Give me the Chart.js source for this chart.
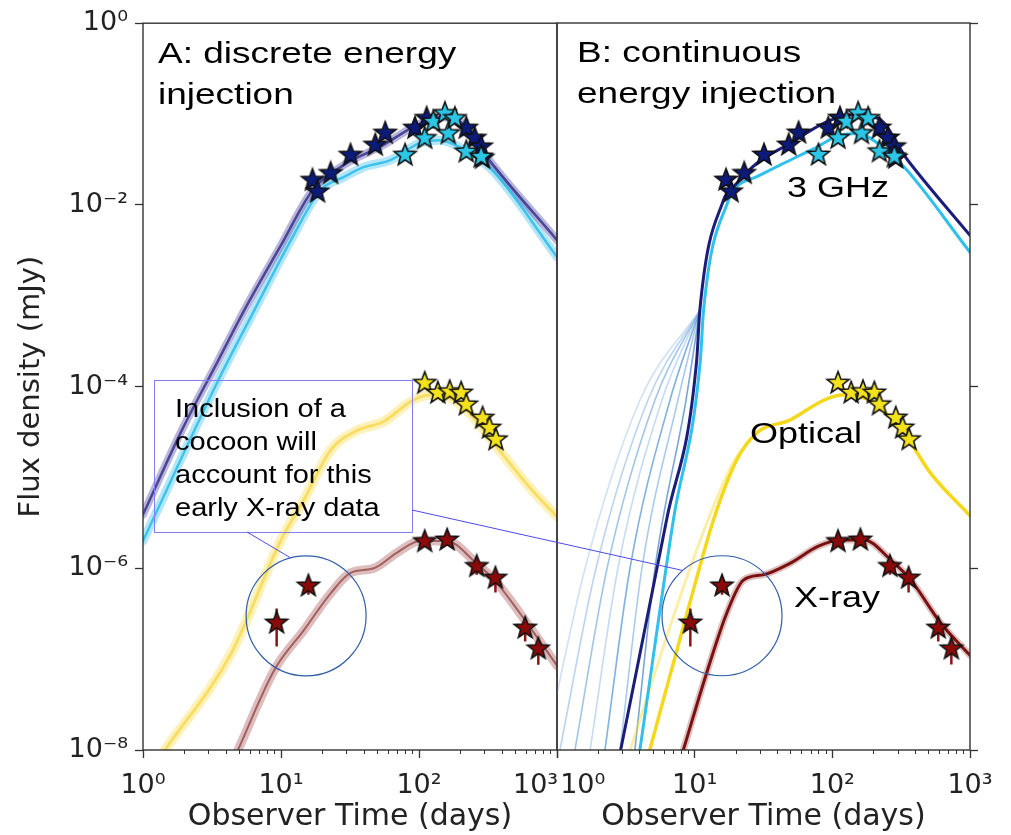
<!DOCTYPE html>
<html>
<head>
<meta charset="utf-8">
<title>Flux density vs observer time</title>
<script src="https://cdn.jsdelivr.net/npm/chart.js@4.4.1/dist/chart.umd.min.js"></script>
<style>
  body { margin: 0; background: #fff; }
  #wrap { position: relative; width: 1011px; height: 835px; }
  #wrap canvas { position: absolute; left: 0; top: 0; }
</style>
</head>
<body>
<div id="wrap">
  <canvas id="panelA" width="1011" height="835"></canvas>
  <canvas id="panelB" width="1011" height="835"></canvas>
</div>
<script>
// axis ticks (end labels padded so the two panels' labels sit side by side)
const xTickVals = [1, 10, 100, 1000];
const xTickTextA = ['10⁰', '10¹', '10²', '10³     '];
const xTickTextB = ['      10⁰', '10¹', '10²', '10³'];
const xMinorVals = [2, 3, 4, 5, 6, 7, 8, 9, 20, 30, 40, 50, 60, 70, 80, 90, 200, 300, 400, 500, 600, 700, 800, 900];
const yTickVals = [1e-8, 1e-6, 1e-4, 1e-2, 1];
const yTickText = ['10⁻⁸', '10⁻⁶', '10⁻⁴', '10⁻²', '10⁰'];

// observations (days, mJy) - same in both panels
const radioDarkT = [16.9, 18.4, 22.9, 31.9, 48.2, 56.9, 93.5, 113.6, 220, 253, 282, 289];
const radioDarkF = [0.0187, 0.0139, 0.0222, 0.0353, 0.0455, 0.0617, 0.070, 0.090, 0.070, 0.0543, 0.0436, 0.0327];
const radioCyanT = [79.3, 110, 127, 154, 163, 182, 220, 282];
const radioCyanF = [0.0353, 0.054, 0.082, 0.1016, 0.061, 0.0895, 0.0384, 0.0338];
const opticalT = [110, 137, 167, 202, 220, 289, 324, 361];
const opticalF = [1.09e-4, 8.5e-5, 8.8e-5, 8.5e-5, 6.3e-5, 4.5e-5, 3.5e-5, 2.6e-5];
const xrayT = [9.3, 15.8, 110, 160, 262, 358, 588, 732];
const xrayF = [2.5e-7, 6.4e-7, 1.97e-6, 2.05e-6, 1.05e-6, 7.8e-7, 2.2e-7, 1.3e-7];
const xrayLo = [1.38e-7, 5.1e-7, 1.8e-6, 1.9e-6, 8.5e-7, 5.4e-7, 1.56e-7, 8.7e-8];
const xrayHi = [3.6e-7, 7.0e-7, 2.1e-6, 2.2e-6, 1.15e-6, 8.5e-7, 2.4e-7, 1.45e-7];

// model A: discrete energy injection
const aRadioDarkT = [1, 1.91, 3.52, 5.41, 10, 17.0, 28.4, 55, 90.5, 141, 207, 323, 1000];
const aRadioDarkF = [3.9e-6, 3.3e-5, 1.96e-4, 6.9e-4, 3.6e-3, 0.0146, 0.0274, 0.0455, 0.0718, 0.0925, 0.079, 0.0311, 4.1e-3];
const aRadioCyanT = [1, 3.52, 6.4, 11.8, 19.4, 28.4, 39.6, 62, 101, 141, 197, 339, 1000];
const aRadioCyanF = [2.0e-6, 1.18e-4, 6.9e-4, 4.1e-3, 0.0146, 0.0202, 0.026, 0.0311, 0.0478, 0.0516, 0.0432, 0.0241, 2.67e-3];
const aOpticalT = [1.44, 4.37, 10, 14.6, 22.9, 35.8, 55, 90.5, 120, 167, 233, 363, 627, 1000];
const aOpticalF = [1e-8, 1.17e-7, 2.05e-6, 5.6e-6, 2.0e-5, 3.3e-5, 4.1e-5, 7.1e-5, 8.1e-5, 7.5e-5, 5.1e-5, 2.2e-5, 7.9e-6, 3.7e-6];
const aXrayT = [4.88, 8.95, 14.7, 22.9, 31.9, 47, 69, 101.5, 158, 260, 361, 630, 1000];
const aXrayF = [1e-8, 7.6e-8, 2.1e-7, 5.3e-7, 8.9e-7, 1.0e-6, 1.48e-6, 2.0e-6, 2.0e-6, 1.14e-6, 7.1e-7, 2.3e-7, 8.5e-8];

// model B: continuous energy injection
const bRadioDarkT = [2.9, 6.25, 10.35, 10.9, 16.2, 19.2, 28.3, 49.6, 87, 135, 214, 352, 1000];
const bRadioDarkF = [1e-8, 3.4e-6, 1.96e-4, 6.9e-4, 0.0113, 0.0158, 0.0286, 0.0475, 0.079, 0.097, 0.0895, 0.0311, 4.6e-3];
const bRadioCyanT = [4.0, 7.0, 11.0, 11.6, 17.6, 20.2, 28.3, 44.3, 78.5, 114, 151, 214, 330, 1000];
const bRadioCyanF = [1e-8, 3.4e-6, 1.96e-4, 6.9e-4, 0.0113, 0.0158, 0.0204, 0.0286, 0.0437, 0.0586, 0.061, 0.0475, 0.0263, 3.0e-3];
const bOpticalT = [4.72, 9.2, 13.7, 20.2, 28.3, 49.6, 87, 124, 194, 330, 520, 1000];
const bOpticalF = [1e-8, 4.1e-7, 3.4e-6, 1.55e-5, 3.1e-5, 4.3e-5, 7.1e-5, 8.1e-5, 6.8e-5, 3.1e-5, 1.1e-5, 3.8e-6];
const bOpticalFaintT = [3.4, 7.5, 12.5, 19.5, 28.3];
const bOpticalFaintF = [1e-8, 4e-7, 3.4e-6, 1.55e-5, 3.1e-5];
const bXrayT = [8.27, 12.2, 17.1, 22.6, 31.8, 49.6, 78.5, 115, 170, 265, 372, 612, 1000];
const bXrayF = [1e-8, 7.0e-8, 3.2e-7, 7.4e-7, 8.5e-7, 1.14e-6, 1.74e-6, 2.05e-6, 2.05e-6, 1.24e-6, 7.4e-7, 2.5e-7, 1.1e-7];
// early spread of model B radio realisations
const fanT = [
  [0.82, 1.60, 4.01, 10.9],
  [1.05, 1.92, 4.58, 10.9],
  [1.35, 2.31, 5.15, 10.9],
  [1.74, 2.77, 5.79, 10.9],
  [2.23, 3.39, 6.62, 10.9],
  [2.87, 4.14, 7.56, 10.9],
  [3.68, 5.15, 8.65, 10.9]
];
const fanF = [1e-8, 1e-6, 7.1e-5, 6.9e-4];
const fanColors = ['rgba(160,195,232,0.5)', 'rgba(120,170,222,0.5)', 'rgba(70,140,205,0.5)',
  'rgba(150,190,232,0.55)', 'rgba(45,125,198,0.6)', 'rgba(100,160,218,0.55)', 'rgba(35,105,185,0.6)'];

const AREA = { top: 23, bottom: 750, aLeft: 143, mid: 557, bRight: 970 };

function pts(ts, fs) {
  return ts.map((t, i) => ({ x: t, y: fs[i] }));
}

function starImage(fill) {
  const c = document.createElement('canvas');
  const s = 28, r = 11.5;
  c.width = s; c.height = s;
  const g = c.getContext('2d');
  g.beginPath();
  for (let i = 0; i < 10; i++) {
    const rad = i % 2 ? r * 0.42 : r;
    const a = -Math.PI / 2 + i * Math.PI / 5;
    const px = s / 2 + rad * Math.cos(a), py = s / 2 + rad * Math.sin(a);
    if (i) g.lineTo(px, py); else g.moveTo(px, py);
  }
  g.closePath();
  g.fillStyle = fill;
  g.fill();
  g.lineWidth = 1.6;
  g.strokeStyle = '#111';
  g.stroke();
  return c;
}

const starNavy = starImage('#0c1a7a');
const starCyan = starImage('#2cc6e6');
const starYellow = starImage('#f4e21c');
const starRed = starImage('#8a0a0a');

function lineDs(ts, fs, color, width, order) {
  return {
    data: pts(ts, fs), showLine: true, borderColor: color, borderWidth: width,
    pointRadius: 0, cubicInterpolationMode: 'monotone', order: order,
    borderCapStyle: 'round', borderJoinStyle: 'round'
  };
}

function starDs(ts, fs, img, order) {
  return { data: pts(ts, fs), showLine: false, pointStyle: img, pointRadius: 12, order: order };
}

function errDs() {
  const data = [];
  xrayT.forEach((t, i) => {
    data.push({ x: t, y: xrayLo[i] }, { x: t, y: xrayHi[i] }, { x: t, y: null });
  });
  return { data, showLine: true, spanGaps: false, borderColor: '#8a1515', borderWidth: 2.5, pointRadius: 0, order: 2 };
}

function observations() {
  return [
    starDs(radioCyanT, radioCyanF, starCyan, 0),
    starDs(opticalT, opticalF, starYellow, 0),
    starDs(xrayT, xrayF, starRed, 0),
    starDs(radioDarkT, radioDarkF, starNavy, 1),
    errDs()
  ];
}

function xScales(tickText) {
  return {
    xMinor: {
      type: 'logarithmic', position: 'bottom', min: 1, max: 1000, weight: 0,
      afterBuildTicks: s => { s.ticks = xMinorVals.map(v => ({ value: v })); },
      afterFit: s => { s.height = 0; },
      ticks: { display: false },
      grid: { drawOnChartArea: false, tickLength: 4, color: '#333', tickWidth: 1 },
      border: { display: false }
    },
    x: {
      type: 'logarithmic', position: 'bottom', min: 1, max: 1000, weight: 1,
      afterBuildTicks: s => { s.ticks = xTickVals.map(v => ({ value: v })); },
      afterFit: s => { s.height = 835 - AREA.bottom; },
      ticks: {
        callback: (v, i) => tickText[i], autoSkip: false, maxRotation: 0, padding: 12,
        font: { family: 'DejaVu Sans', size: 27 }, color: '#222'
      },
      grid: { drawOnChartArea: false, tickLength: 8, color: '#333', tickWidth: 1.3 },
      border: { display: false },
      title: {
        display: true, text: 'Observer Time (days)', color: '#222',
        font: { family: 'DejaVu Sans', size: 30 }, padding: { top: 0, bottom: 0 }
      }
    }
  };
}

function yScale(isLeft) {
  return {
    type: 'logarithmic', position: isLeft ? 'left' : 'right', min: 1e-8, max: 1,
    afterBuildTicks: s => { s.ticks = yTickVals.map(v => ({ value: v })); },
    afterFit: s => { s.width = isLeft ? AREA.aLeft : 1011 - AREA.bRight; },
    ticks: isLeft ? {
      callback: (v, i) => yTickText[i], autoSkip: false, padding: 7,
      font: { family: 'DejaVu Sans', size: 27 }, color: '#222'
    } : { display: false },
    grid: { drawOnChartArea: false, tickLength: 8, color: '#333', tickWidth: 1.3 },
    border: { display: false },
    title: isLeft ? {
      display: true, text: 'Flux density (mJy)', color: '#222',
      font: { family: 'DejaVu Sans', size: 29 }, padding: { top: 14, bottom: 0 }
    } : { display: false }
  };
}

// text squeezed vertically to match the stretched look of the figure
function label(ctx, str, x, y, size, sy) {
  ctx.save();
  ctx.translate(x, y);
  ctx.scale(1, sy);
  ctx.font = size + 'px "Liberation Sans", Arial, sans-serif';
  ctx.fillStyle = '#000';
  ctx.textBaseline = 'alphabetic';
  ctx.textAlign = 'left';
  ctx.fillText(str, 0, 0);
  ctx.restore();
}

const framePlugin = {
  id: 'frame',
  afterDatasetsDraw(chart) {
    const { ctx, chartArea: a } = chart;
    ctx.save();
    ctx.strokeStyle = '#333';
    ctx.lineWidth = 1.4;
    ctx.strokeRect(a.left, a.top, a.right - a.left, a.bottom - a.top);
    ctx.restore();
  }
};

const baseOptions = pad => ({
  responsive: false,
  animation: false,
  devicePixelRatio: 1,
  events: [],
  layout: { padding: pad },
  plugins: { legend: { display: false }, tooltip: { enabled: false } }
});

// ---- panel A
const chartA = new Chart(document.getElementById('panelA'), {
  type: 'scatter',
  data: {
    datasets: observations().concat([
      lineDs(aRadioDarkT, aRadioDarkF, 'rgba(55,50,140,0.85)', 2.5, 10),
      lineDs(aRadioCyanT, aRadioCyanF, 'rgba(40,190,235,0.85)', 2.5, 10),
      lineDs(aOpticalT, aOpticalF, 'rgba(246,208,40,0.6)', 3, 10),
      lineDs(aXrayT, aXrayF, 'rgba(125,35,35,0.6)', 2, 10),
      lineDs(aRadioDarkT, aRadioDarkF, 'rgba(100,90,175,0.45)', 8, 11),
      lineDs(aRadioCyanT, aRadioCyanF, 'rgba(90,200,240,0.45)', 9, 11),
      lineDs(aOpticalT, aOpticalF, 'rgba(250,218,60,0.35)', 10, 11),
      lineDs(aXrayT, aXrayF, 'rgba(170,90,90,0.4)', 9, 11)
    ])
  },
  options: Object.assign(baseOptions({ left: 0, top: AREA.top, right: 1011 - AREA.mid, bottom: 0 }), {
    scales: Object.assign(xScales(xTickTextA), { y: yScale(true) })
  }),
  plugins: [framePlugin, {
    id: 'textA',
    afterDraw(chart) {
      label(chart.ctx, 'A: discrete energy', 158, 63, 37, 0.8);
      label(chart.ctx, 'injection', 158, 104, 37, 0.8);
    }
  }]
});

// ---- panel B
const chartB = new Chart(document.getElementById('panelB'), {
  type: 'scatter',
  data: {
    datasets: observations().concat([
      lineDs(bRadioDarkT, bRadioDarkF, '#1c1d78', 3, 10),
      lineDs(bRadioCyanT, bRadioCyanF, '#2fc0ec', 3, 10),
      lineDs(bOpticalT, bOpticalF, '#f5d81c', 3.5, 10),
      lineDs(bOpticalFaintT, bOpticalFaintF, 'rgba(246,220,60,0.45)', 3, 11),
      lineDs(bXrayT, bXrayF, '#7a1010', 3, 10),
      lineDs(bXrayT, bXrayF, 'rgba(160,80,80,0.35)', 7, 11)
    ]).concat(fanT.map((ts, i) => lineDs(ts, fanF, fanColors[i], 1.6, 12)))
  },
  options: Object.assign(baseOptions({ left: AREA.mid, top: AREA.top, right: 0, bottom: 0 }), {
    scales: Object.assign(xScales(xTickTextB), { y: yScale(false) })
  }),
  plugins: [framePlugin, {
    id: 'textB',
    afterDraw(chart) {
      const ctx = chart.ctx;
      label(ctx, 'B: continuous', 577, 62, 37, 0.8);
      label(ctx, 'energy injection', 577, 103, 37, 0.8);
      label(ctx, '3 GHz', 787, 197, 36, 0.82);
      label(ctx, 'Optical', 750, 443, 36, 0.82);
      label(ctx, 'X-ray', 794, 607, 36, 0.82);

      // callout about the early X-ray data
      const box = { l: 154, t: 380, r: 412, b: 532 };
      ctx.save();
      ctx.strokeStyle = '#8080f4';
      ctx.lineWidth = 1;
      ctx.strokeRect(box.l + 0.5, box.t + 0.5, box.r - box.l, box.b - box.t);
      ctx.restore();
      ['Inclusion of a', 'cocoon will', 'account for this', 'early X-ray data'].forEach((s, i) => {
        label(ctx, s, 175, 417 + i * 33, 29, 0.88);
      });

      const r = 60;
      const cA = {
        x: chartA.scales.x.getPixelForValue(15.2),
        y: chartA.scales.y.getPixelForValue(3.0e-7)
      };
      const cB = {
        x: chart.scales.x.getPixelForValue(15.8),
        y: chart.scales.y.getPixelForValue(3.0e-7)
      };
      ctx.save();
      ctx.strokeStyle = '#2f5ca8';
      ctx.lineWidth = 1.2;
      [cA, cB].forEach(c => {
        ctx.beginPath();
        ctx.arc(c.x, c.y, r, 0, Math.PI * 2);
        ctx.stroke();
      });
      ctx.strokeStyle = '#4a4af0';
      ctx.lineWidth = 1;
      const angA = -105 * Math.PI / 180, angB = -131 * Math.PI / 180;
      ctx.beginPath();
      ctx.moveTo(247, box.b);
      ctx.lineTo(cA.x + r * Math.cos(angA), cA.y + r * Math.sin(angA));
      ctx.moveTo(box.r, 510);
      ctx.lineTo(cB.x + r * Math.cos(angB), cB.y + r * Math.sin(angB));
      ctx.stroke();
      ctx.restore();
    }
  }]
});
</script>
</body>
</html>
